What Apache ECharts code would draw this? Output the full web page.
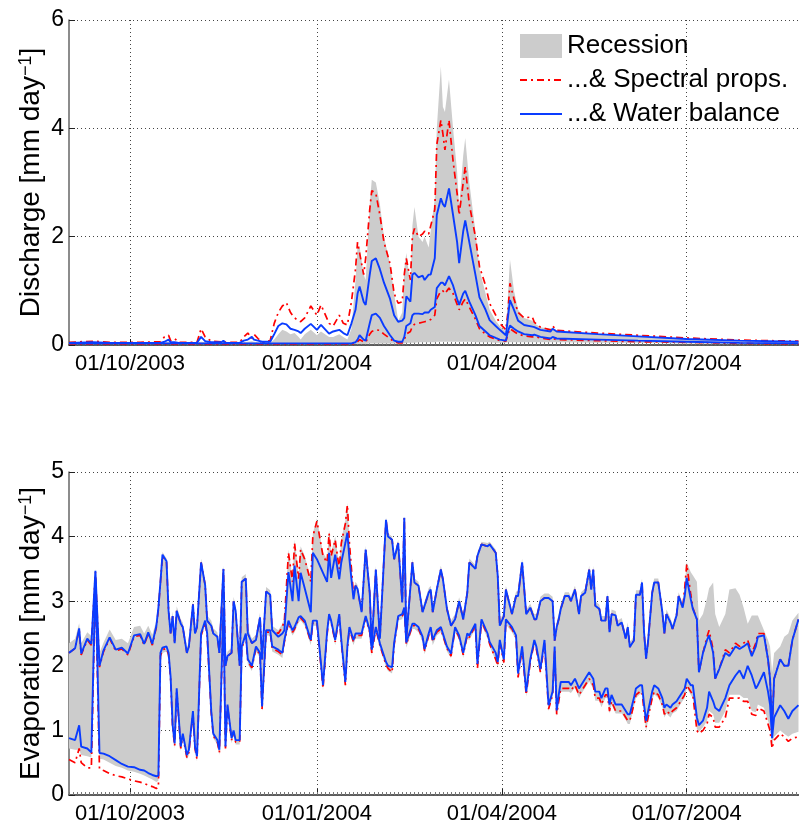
<!DOCTYPE html>
<html>
<head>
<meta charset="utf-8">
<title>Discharge / Evaporation</title>
<script src="https://cdn.jsdelivr.net/npm/echarts@6.0.0/dist/echarts.min.js"></script>
<style>
  html, body { margin: 0; padding: 0; background: #fff; }
  #main { width: 799px; height: 825px; }
</style>
</head>
<body>
<div id="main"></div>
<script>
// x values are days counted from 01/09/2003
var tickDays = [30, 122, 213, 304];
var tickLabels = ['01/10/2003', '01/01/2004', '01/04/2004', '01/07/2004'];
var maxDay = 359.25;

// ---- discharge (top panel) ----
var qDay = [0,12,20,35,45,47,49,50,52,54,
  63,65,67,70,75,76,77,84,86,88,
  90,91,93,95,99,101,103,105,107,109,
  111,113,114,116,119,122,124,128,130,133,
  135,137,139,141,142,143,145,146,148,149,
  151,153,155,158,160,162,164,165,166,168,
  169,170,172,174,175,177,178,180,181,183,
  184,185,187,189,191,192,194,195,197,200,
  202,205,207,210,212,215,216,217,219,221,
  224,228,229,232,237,238,240,260,280,304,
  330,359];
// water balance (blue) upper / lower
var qWbHi = [0.04,0.05,0.04,0.04,0.04,0.06,0.1,0.05,0.05,0.04,
  0.04,0.15,0.07,0.05,0.05,0.08,0.04,0.04,0.08,0.1,
  0.15,0.1,0.08,0.06,0.06,0.2,0.35,0.4,0.38,0.3,
  0.28,0.25,0.22,0.3,0.39,0.28,0.37,0.21,0.25,0.28,
  0.22,0.18,0.4,0.65,0.95,1.08,0.8,0.74,1.3,1.55,
  1.6,1.4,1.15,0.85,0.55,0.43,0.45,0.5,0.9,0.8,
  1.3,1.33,1.25,1.28,1.2,1.3,1.3,1.6,2.4,2.71,
  2.6,2.55,2.89,2.4,1.9,1.51,2.1,2.3,1.9,1.3,
  0.88,0.65,0.46,0.35,0.28,0.18,0.5,0.83,0.65,0.45,
  0.37,0.34,0.33,0.28,0.25,0.3,0.25,0.2,0.16,0.11,
  0.08,0.06];
var qWbLo = [0.03,0.03,0.03,0.03,0.03,0.03,0.03,0.03,0.03,0.03,
  0.03,0.03,0.03,0.03,0.03,0.03,0.03,0.03,0.03,0.03,
  0.03,0.03,0.03,0.03,0.03,0.03,0.03,0.03,0.03,0.03,
  0.03,0.03,0.03,0.03,0.03,0.03,0.03,0.03,0.03,0.03,
  0.03,0.03,0.03,0.05,0.1,0.18,0.1,0.08,0.4,0.55,
  0.58,0.5,0.35,0.18,0.08,0.06,0.06,0.15,0.35,0.4,
  0.55,0.58,0.58,0.57,0.6,0.6,0.65,0.7,1.05,1.15,
  1.15,1.1,1.27,1.1,0.85,0.74,0.95,1.0,0.8,0.55,
  0.35,0.25,0.18,0.13,0.1,0.08,0.25,0.36,0.3,0.25,
  0.2,0.18,0.19,0.15,0.12,0.15,0.12,0.1,0.08,0.06,
  0.04,0.03];
// spectral props (red) upper / lower
var qSpHi = [0.05,0.07,0.05,0.05,0.06,0.15,0.18,0.08,0.12,0.05,
  0.05,0.3,0.15,0.07,0.06,0.08,0.05,0.05,0.15,0.22,
  0.12,0.2,0.12,0.05,0.08,0.4,0.6,0.72,0.78,0.6,
  0.5,0.45,0.43,0.5,0.72,0.55,0.74,0.4,0.35,0.55,
  0.4,0.37,0.8,1.4,1.9,1.7,1.3,1.6,2.5,2.85,
  2.8,2.4,1.9,1.5,0.95,0.77,0.8,1.3,1.6,1.2,
  2.0,2.15,2.0,2.05,2.1,2.05,2.2,2.5,3.7,4.15,
  3.9,3.6,4.15,3.4,2.8,2.4,3.0,3.29,2.6,2.0,
  1.45,1.1,0.77,0.55,0.4,0.28,0.6,1.14,0.85,0.6,
  0.5,0.52,0.42,0.33,0.28,0.35,0.27,0.22,0.18,0.13,
  0.09,0.07];
var qSpLo = [0.02,0.02,0.02,0.02,0.02,0.02,0.02,0.02,0.02,0.02,
  0.02,0.02,0.02,0.02,0.02,0.02,0.02,0.02,0.02,0.02,
  0.02,0.02,0.02,0.02,0.02,0.02,0.02,0.02,0.02,0.02,
  0.02,0.02,0.02,0.02,0.02,0.02,0.02,0.02,0.02,0.02,
  0.02,0.02,0.02,0.03,0.06,0.1,0.06,0.05,0.2,0.25,
  0.28,0.27,0.2,0.12,0.06,0.04,0.04,0.1,0.2,0.25,
  0.35,0.38,0.4,0.42,0.43,0.45,0.47,0.55,0.85,1.0,
  1.0,0.95,1.05,0.95,0.75,0.65,0.8,0.85,0.7,0.48,
  0.3,0.2,0.15,0.11,0.08,0.07,0.2,0.3,0.25,0.2,
  0.17,0.15,0.16,0.13,0.1,0.12,0.1,0.08,0.06,0.05,
  0.03,0.02];
// recession (grey band) upper / lower
var qRecHi = [0.04,0.04,0.04,0.04,0.04,0.05,0.06,0.04,0.04,0.04,
  0.04,0.06,0.05,0.04,0.04,0.04,0.04,0.04,0.05,0.06,
  0.07,0.06,0.05,0.04,0.04,0.1,0.2,0.28,0.25,0.2,
  0.22,0.15,0.1,0.2,0.28,0.18,0.25,0.15,0.15,0.2,
  0.15,0.1,0.3,1.2,1.82,1.82,1.3,1.2,2.6,3.05,
  3.0,2.6,2.0,1.5,0.95,0.45,0.6,1.4,1.7,1.1,
  2.2,2.55,2.0,1.9,2.0,1.8,2.1,2.7,4.0,5.14,
  4.4,4.3,4.9,4.0,3.2,2.55,3.5,3.82,3.0,2.1,
  1.4,0.95,0.65,0.45,0.35,0.25,0.9,1.58,1.0,0.65,
  0.5,0.45,0.4,0.33,0.3,0.32,0.27,0.2,0.16,0.11,
  0.08,0.06];
var qRecLo = [0.02,0.02,0.02,0.02,0.02,0.02,0.02,0.02,0.02,0.02,
  0.02,0.02,0.02,0.02,0.02,0.02,0.02,0.02,0.02,0.02,
  0.02,0.02,0.02,0.02,0.02,0.02,0.02,0.02,0.02,0.02,
  0.02,0.02,0.02,0.02,0.02,0.02,0.02,0.02,0.02,0.02,
  0.02,0.02,0.02,0.02,0.02,0.02,0.02,0.02,0.03,0.03,
  0.03,0.03,0.03,0.03,0.03,0.03,0.03,0.03,0.04,0.04,
  0.04,0.04,0.05,0.05,0.05,0.05,0.05,0.05,0.06,0.06,
  0.06,0.06,0.06,0.06,0.06,0.06,0.06,0.06,0.06,0.05,
  0.05,0.05,0.05,0.04,0.04,0.04,0.05,0.05,0.05,0.05,
  0.05,0.05,0.05,0.05,0.05,0.05,0.05,0.04,0.04,0.03,
  0.03,0.02];

// ---- evaporation (bottom panel) ----
var eDay = [0,3,5,6,9,11,13,15,17,20,
  23,26,29,32,35,37,39,41,43,44,
  45,46,48,49,50,51,52,53,55,56,
  58,59,61,62,63,65,67,68,70,71,
  73,74,76,77,78,80,81,82,84,85,
  87,88,90,92,94,95,97,99,100,103,
  105,106,108,110,111,113,
  114,116,119,120,122,125,127,128,129,131,
  133,134,136,137,138,140,141,142,144,146,
  148,149,151,153,156,157,159,160,162,164,
  165,166,169,170,172,174,175,177,178,179,
  181,183,184,186,188,190,192,194,196,197,
  200,201,203,206,207,210,211,212,214,215,
  218,220,221,223,225,227,229,230,232,234,
  236,238,239,240,241,
  242,244,246,247,249,251,252,254,256,257,
  258,259,261,262,264,265,266,267,269,270,
  272,274,275,276,278,279,281,282,283,284,
  285,287,288,290,292,293,294,296,297,299,
  300,302,303,304,306,307,309,310,312,314,
  315,317,318,320,323,325,328,330,332,334,
  336,338,339,342,344,345,346,347,350,352,
  354,356,359];
var eWbHi = [2.2,2.27,2.58,2.19,2.42,2.34,3.47,2.0,2.24,2.44,
  2.25,2.28,2.19,2.47,2.49,2.34,2.52,2.34,2.62,2.9,
  3.3,3.72,3.62,2.85,2.5,2.77,2.35,2.85,2.65,2.6,
  2.2,2.3,2.95,2.5,2.6,3.6,3.25,2.7,2.62,2.5,
  2.45,2.2,3.5,2.0,2.15,2.2,3.0,2.85,2.0,3.3,
  3.35,2.5,2.35,2.4,2.75,2.1,3.15,3.1,2.55,2.45,
  2.5,2.55,3.45,3.0,3.55,3.0,
  3.44,3.2,2.83,3.75,3.65,3.44,3.3,3.75,3.36,3.72,
  3.34,3.6,3.9,4.06,3.65,3.03,3.24,3.19,2.83,3.8,
  3.13,2.31,3.49,2.42,4.26,4.0,3.95,3.65,3.9,2.98,
  4.29,2.42,3.6,3.29,3.24,2.83,2.93,3.13,3.18,2.83,
  3.18,3.49,3.34,2.88,2.62,2.72,3.0,2.72,3.13,3.6,
  3.5,3.7,3.88,3.85,3.88,3.75,3.39,2.62,2.77,3.18,
  2.8,3.08,3.08,3.6,2.8,2.9,2.72,2.72,3.0,3.05,
  3.05,3.0,2.39,2.6,2.72,
  2.88,3.08,3.08,3.0,3.18,2.8,3.08,3.13,3.49,3.18,
  3.49,2.93,2.88,2.7,2.7,3.08,2.52,2.8,2.78,2.62,
  2.67,2.42,2.6,2.29,2.39,3.1,3.1,3.29,2.52,2.11,
  2.39,3.13,3.29,3.29,2.83,2.5,2.8,2.67,2.57,2.78,
  3.08,2.9,3.08,3.36,3.03,2.88,2.72,1.9,2.2,2.4,
  2.47,2.2,1.8,1.95,2.2,2.15,2.3,2.26,2.3,2.35,
  2.15,2.3,2.45,2.47,2.1,1.8,1.0,1.8,2.1,2.0,
  2.0,2.4,2.72];
var eWbLo = [0.88,0.85,1.08,0.75,0.72,0.66,3.35,0.65,0.64,0.6,
  0.54,0.48,0.44,0.43,0.39,0.38,0.34,0.31,0.29,0.3,
  2.2,2.28,2.3,2.2,1.83,1.08,0.8,1.65,0.75,0.95,
  0.62,0.7,1.3,0.75,0.6,2.5,2.7,2.5,1.3,0.95,
  0.85,0.7,2.9,0.75,1.4,0.88,1.0,0.85,0.85,2.3,
  2.5,2.1,2.0,2.3,2.2,1.37,2.55,2.55,2.3,2.25,
  2.2,2.4,2.7,2.55,2.6,2.75,
  2.77,2.7,2.4,2.7,2.7,1.7,2.52,2.8,2.7,2.4,
  2.8,2.4,1.75,2.3,2.6,2.4,2.5,2.5,2.5,2.77,
  2.55,2.25,2.6,2.35,2.06,2.0,1.98,2.35,2.77,2.8,
  2.9,2.36,2.65,2.65,2.6,2.45,2.26,2.5,2.6,2.4,
  2.55,2.6,2.5,2.3,2.19,2.6,2.47,2.2,2.5,2.47,
  2.65,2.03,2.72,2.5,2.37,2.2,2.06,2.4,2.1,2.72,
  2.6,2.47,1.88,2.3,1.6,2.1,2.4,2.3,1.95,2.4,
  1.39,1.6,2.3,1.31,1.55,
  1.75,1.75,1.75,1.7,1.8,1.65,1.7,1.8,1.9,1.85,
  1.8,1.6,1.6,1.5,1.65,1.65,1.4,1.55,1.4,1.4,
  1.4,1.3,1.25,1.25,1.5,1.65,1.7,1.7,1.4,1.15,
  1.3,1.6,1.7,1.65,1.5,1.35,1.4,1.35,1.4,1.45,
  1.5,1.6,1.65,1.8,1.7,1.7,1.2,1.08,1.15,1.35,
  1.6,1.45,1.35,1.3,1.5,1.7,1.85,1.93,1.8,2.0,
  1.85,1.65,1.7,1.9,1.6,1.4,0.88,1.2,1.39,1.3,
  1.18,1.3,1.39];
var eSpHi = [2.2,2.27,2.56,2.17,2.4,2.32,3.45,1.98,2.22,2.42,
  2.23,2.26,2.17,2.45,2.47,2.32,2.5,2.32,2.6,2.88,
  3.3,3.7,3.6,2.85,2.5,2.77,2.35,2.85,2.65,2.6,
  2.2,2.3,2.95,2.5,2.6,3.6,3.25,2.7,2.62,2.5,
  2.45,2.2,3.5,2.0,2.15,2.2,3.0,2.85,2.0,3.3,
  3.35,2.5,2.35,2.4,2.75,2.1,3.15,3.1,2.55,2.5,
  2.6,2.7,3.75,3.3,3.9,3.35,
  3.8,3.65,3.3,4.0,4.24,3.7,3.6,4.05,3.7,3.95,
  3.5,3.9,4.2,4.49,3.9,3.1,3.24,3.19,2.83,3.8,
  3.13,2.31,3.49,2.42,4.26,4.0,3.95,3.65,3.9,2.98,
  4.29,2.42,3.6,3.29,3.24,2.83,2.93,3.13,3.18,2.83,
  3.18,3.49,3.34,2.88,2.62,2.72,3.0,2.72,3.13,3.6,
  3.5,3.7,3.88,3.85,3.88,3.75,3.39,2.62,2.77,3.18,
  2.8,3.08,3.08,3.6,2.8,2.9,2.72,2.72,3.0,3.05,
  3.05,3.0,2.39,2.6,2.72,
  2.88,3.08,3.08,3.0,3.18,2.8,3.08,3.13,3.49,3.18,
  3.49,2.93,2.88,2.7,2.7,3.08,2.52,2.8,2.78,2.62,
  2.67,2.42,2.6,2.29,2.39,3.1,3.1,3.29,2.52,2.11,
  2.39,3.13,3.29,3.29,2.83,2.5,2.8,2.67,2.57,2.78,
  3.08,2.9,3.2,3.57,3.1,2.9,2.72,1.9,2.2,2.45,
  2.55,2.25,1.8,1.95,2.25,2.2,2.35,2.3,2.35,2.4,
  2.2,2.35,2.5,2.5,2.1,1.8,1.0,1.8,2.1,2.0,
  2.0,2.4,2.72];
var eSpLo = [0.55,0.5,0.72,0.5,0.42,0.42,3.3,0.4,0.38,0.33,
  0.3,0.28,0.25,0.22,0.2,0.18,0.15,0.13,0.1,0.12,
  2.15,2.25,2.27,2.17,1.8,1.04,0.76,1.62,0.72,0.92,
  0.58,0.66,1.27,0.72,0.55,2.47,2.67,2.47,1.27,0.92,
  0.82,0.66,2.87,0.72,1.37,0.85,0.97,0.82,0.82,2.27,
  2.47,2.07,1.97,2.27,2.17,1.33,2.52,2.52,2.27,2.22,
  2.17,2.37,2.67,2.52,2.57,2.72,
  2.74,2.67,2.37,2.67,2.67,1.65,2.48,2.77,2.67,2.37,
  2.77,2.37,1.7,2.27,2.57,2.37,2.47,2.47,2.47,2.74,
  2.52,2.2,2.57,2.32,2.02,1.96,1.9,2.32,2.74,2.77,
  2.87,2.33,2.62,2.62,2.57,2.42,2.23,2.47,2.57,2.37,
  2.52,2.57,2.47,2.27,2.15,2.57,2.44,2.17,2.47,2.44,
  2.62,1.96,2.69,2.47,2.34,2.1,2.0,2.37,2.05,2.69,
  2.57,2.44,1.82,2.26,1.55,2.06,2.36,2.26,1.9,2.35,
  1.33,1.55,2.25,1.25,1.45,
  1.65,1.65,1.65,1.62,1.7,1.55,1.6,1.7,1.8,1.75,
  1.7,1.5,1.5,1.4,1.55,1.55,1.3,1.45,1.3,1.3,
  1.3,1.2,1.15,1.15,1.4,1.55,1.6,1.6,1.3,1.05,
  1.2,1.5,1.6,1.55,1.4,1.25,1.3,1.25,1.3,1.35,
  1.4,1.5,1.55,1.7,1.6,1.55,1.0,0.95,1.0,1.1,
  1.25,1.2,1.05,1.05,1.2,1.5,1.5,1.5,1.45,1.45,
  1.25,1.23,1.35,1.3,1.1,1.0,0.72,0.85,0.95,0.9,
  0.83,0.88,0.9];
var eRecHi = [2.35,2.42,2.66,2.35,2.52,2.46,3.5,2.2,2.36,2.56,
  2.4,2.42,2.35,2.6,2.62,2.5,2.62,2.48,2.7,2.95,
  3.38,3.76,3.66,2.92,2.58,2.84,2.42,2.92,2.72,2.67,
  2.28,2.38,3.02,2.58,2.68,3.66,3.32,2.78,2.7,2.58,
  2.52,2.28,3.56,2.08,2.22,2.28,3.07,2.92,2.08,3.37,
  3.42,2.58,2.42,2.48,2.82,2.18,3.22,3.17,2.62,2.55,
  2.65,2.75,3.8,3.35,3.95,3.4,
  3.85,3.7,3.35,4.05,4.28,3.75,3.65,4.1,3.75,4.0,
  3.55,3.95,4.25,4.52,3.95,3.15,3.3,3.25,2.9,3.86,
  3.2,2.38,3.55,2.5,4.3,4.05,4.0,3.7,3.95,3.05,
  4.32,2.5,3.66,3.35,3.3,2.9,3.0,3.2,3.24,2.9,
  3.24,3.55,3.4,2.95,2.7,2.8,3.06,2.8,3.2,3.66,
  3.56,3.76,3.92,3.9,3.92,3.8,3.45,2.7,2.84,3.24,
  2.87,3.15,3.15,3.66,2.87,2.96,2.8,2.8,3.07,3.12,
  3.12,3.07,2.46,2.67,2.8,
  2.95,3.14,3.14,3.07,3.24,2.87,3.14,3.2,3.55,3.24,
  3.55,3.0,2.95,2.77,2.77,3.14,2.6,2.87,2.85,2.7,
  2.74,2.5,2.67,2.36,2.46,3.17,3.17,3.35,2.6,2.18,
  2.46,3.2,3.35,3.35,2.9,2.57,2.87,2.74,2.64,2.85,
  3.14,2.97,3.25,3.6,3.45,3.4,3.3,2.7,2.8,3.05,
  3.2,3.29,2.8,2.6,2.8,3.18,3.2,3.1,2.9,2.65,
  2.78,2.78,2.78,2.55,2.4,2.3,1.9,2.2,2.3,2.45,
  2.5,2.7,2.82];
var eRecLo = [0.72,0.7,0.7,0.62,0.6,0.58,3.2,0.56,0.55,0.5,
  0.45,0.42,0.38,0.36,0.33,0.3,0.27,0.24,0.2,0.22,
  2.1,2.2,2.22,2.12,1.75,1.0,0.72,1.58,0.68,0.88,
  0.55,0.62,1.22,0.68,0.52,2.42,2.62,2.42,1.22,0.88,
  0.78,0.62,2.82,0.68,1.32,0.8,0.92,0.78,0.78,2.22,
  2.42,2.02,1.92,2.22,2.12,1.3,2.47,2.47,2.22,2.17,
  2.12,2.32,2.62,2.47,2.52,2.67,
  2.7,2.62,2.32,2.62,2.62,1.62,2.45,2.72,2.62,2.32,
  2.72,2.32,1.67,2.22,2.52,2.32,2.42,2.42,2.42,2.7,
  2.47,2.15,2.52,2.27,1.98,1.92,1.88,2.27,2.7,2.72,
  2.82,2.28,2.57,2.57,2.52,2.37,2.18,2.42,2.52,2.32,
  2.47,2.52,2.42,2.22,2.12,2.52,2.4,2.12,2.42,2.4,
  2.57,1.94,2.64,2.42,2.3,2.08,1.98,2.32,2.02,2.64,
  2.52,2.4,1.8,2.22,1.52,2.02,2.32,2.22,1.87,2.32,
  1.3,1.52,2.2,1.22,1.42,
  1.6,1.6,1.6,1.58,1.66,1.5,1.56,1.66,1.76,1.7,
  1.66,1.46,1.46,1.36,1.5,1.5,1.26,1.4,1.26,1.26,
  1.26,1.16,1.1,1.1,1.36,1.5,1.56,1.56,1.26,1.0,
  1.16,1.46,1.56,1.5,1.36,1.2,1.26,1.2,1.26,1.3,
  1.36,1.46,1.5,1.66,1.55,1.5,1.02,0.98,1.05,1.15,
  1.3,1.25,1.12,1.12,1.3,1.55,1.55,1.55,1.5,1.5,
  1.3,1.28,1.4,1.35,1.15,1.05,0.78,0.9,1.0,0.95,
  0.9,0.95,0.98];

var font = 'Liberation Sans, Arial, Helvetica, sans-serif';
var SP = '...& Spectral props.';
var WB = '...& Water balance';
var grey = '#cccccc';
var red = '#ff0000';
var blue = '#0a3cff';
var redDash = [7, 4, 2, 4];

function pairs(xs, ys) {
  return xs.map(function (x, i) { return [x, ys[i]]; });
}

// grey band: one polygon, upper edge forward then lower edge back
function band(k, xs, lo, hi) {
  return {
    name: 'Recession', type: 'custom', xAxisIndex: k * 2, yAxisIndex: k,
    data: xs.map(function (x, i) { return [x, lo[i], hi[i]]; }),
    encode: { x: 0, y: [1, 2] },
    itemStyle: { color: grey }, silent: true, z: 1, clip: true,
    renderItem: function (params, api) {
      if (params.dataIndex !== 0) return null;
      var pts = [];
      for (var i = 0; i < xs.length; i++) pts.push(api.coord([xs[i], hi[i]]));
      for (var j = xs.length - 1; j >= 0; j--) pts.push(api.coord([xs[j], lo[j]]));
      return { type: 'polygon', shape: { points: pts }, style: { fill: grey } };
    }
  };
}

function line(k, xs, ys, name, color, dash, w) {
  return { name: name, type: 'line', xAxisIndex: k * 2, yAxisIndex: k, data: pairs(xs, ys),
    symbol: 'none', silent: true, z: 3,
    itemStyle: { color: color },
    lineStyle: { color: color, width: w, type: dash } };
}

var series = [
  band(0, qDay, qRecLo, qRecHi),
  line(0, qDay, qSpHi, SP, red, redDash, 1.7),
  line(0, qDay, qSpLo, SP, red, redDash, 1.7),
  line(0, qDay, qWbHi, WB, blue, 'solid', 1.9),
  line(0, qDay, qWbLo, WB, blue, 'solid', 1.9),
  band(1, eDay, eRecLo, eRecHi),
  line(1, eDay, eSpHi, SP, red, redDash, 1.7),
  line(1, eDay, eSpLo, SP, red, redDash, 1.7),
  line(1, eDay, eWbHi, WB, blue, 'solid', 1.9),
  line(1, eDay, eWbLo, WB, blue, 'solid', 1.9)
];

var dotted = { color: '#444', width: 1, type: [1, 3] };

function dateAxis(g) {
  return {
    type: 'value', gridIndex: g, min: 0, max: maxDay, position: 'bottom',
    axisLine: { lineStyle: { color: '#555', width: 1.5 } },
    axisTick: { inside: true, length: 6, customValues: tickDays, lineStyle: { color: '#222' } },
    axisLabel: { customValues: tickDays, margin: 8, fontSize: 22, fontFamily: font, color: '#000',
      formatter: function (v) { return tickLabels[tickDays.indexOf(Math.round(v))] || ''; } },
    splitLine: { show: true, lineStyle: dotted }
  };
}
// short ticks every other day along the bottom axis
function minorAxis(g) {
  return {
    type: 'value', gridIndex: g, min: 0, max: maxDay, interval: 2, position: 'bottom', offset: 0,
    axisLine: { show: true, lineStyle: { color: '#555', width: 1.5 } },
    axisTick: { show: true, inside: true, length: 3, lineStyle: { color: '#777' } },
    axisLabel: { show: false },
    splitLine: { show: false }
  };
}

function valAxis(g, max, step, title) {
  return {
    type: 'value', gridIndex: g, min: 0, max: max, interval: step,
    name: '{t|' + title + ' [mm day}{s|\u22121}{t|]}',
    nameLocation: 'middle', nameGap: 24, nameMoveOverlap: false,
    nameTextStyle: { rich: {
      t: { fontSize: 28, fontFamily: font, color: '#000' },
      s: { fontSize: 18, fontFamily: font, color: '#000', verticalAlign: 'top' }
    } },
    axisLine: { show: true, lineStyle: { color: '#666', width: 1.5 } },
    axisTick: { show: true, inside: true, length: 6, lineStyle: { color: '#222' } },
    axisLabel: { margin: 5, fontSize: 23, fontFamily: font, color: '#000' },
    splitLine: { show: true, lineStyle: dotted }
  };
}

var option = {
  animation: false,
  backgroundColor: '#fff',
  grid: [
    { left: 69, top: 20, width: 730, height: 325 },
    { left: 69, top: 472, width: 730, height: 325 }
  ],
  legend: {
    orient: 'vertical', left: 519, top: 33, padding: 0,
    itemWidth: 42, itemHeight: 24, itemGap: 8, selectedMode: false,
    textStyle: { fontSize: 26, fontFamily: font, color: '#000' },
    data: [
      { name: 'Recession', icon: 'rect', itemStyle: { color: grey, opacity: 1 } },
      { name: SP, itemStyle: { opacity: 0 } },
      { name: WB, itemStyle: { opacity: 0 } }
    ]
  },
  xAxis: [dateAxis(0), minorAxis(0), dateAxis(1), minorAxis(1)],
  yAxis: [valAxis(0, 6, 2, 'Discharge'), valAxis(1, 5, 1, 'Evaporation')],
  series: series
};

var chart = echarts.init(document.getElementById('main'), null, { renderer: 'canvas' });
chart.setOption(option);
</script>
</body>
</html>
